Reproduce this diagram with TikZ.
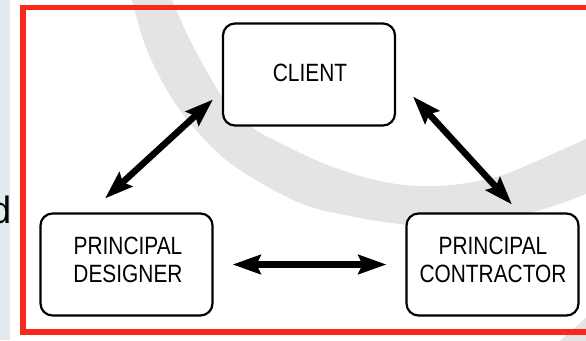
\documentclass[tikz,border=0pt]{standalone}
\usepackage{fontspec}
\setmainfont{Liberation Sans}
\newfontfamily\boxfont[FakeStretch=0.835]{Liberation Sans}
\usetikzlibrary{arrows.meta}

\definecolor{framered}{RGB}{250,40,26}
\definecolor{ringgray}{RGB}{228,228,228}
\definecolor{stripblue}{RGB}{226,234,237}

\tikzset{
  rolebox/.style={draw=black, line width=2.2pt, rounded corners=12pt, fill=white,
    minimum width=172pt, minimum height=102pt, inner sep=0pt, outer sep=0pt},
  rolename/.style={font=\boxfont\fontsize{25}{28.5}\selectfont, align=center, inner sep=0pt},
  duty/.style={line width=6.5pt,
    {Stealth[length=28pt,width=19pt,inset=4pt]}-{Stealth[length=28pt,width=19pt,inset=4pt]}},
}

\begin{document}
\begin{tikzpicture}[x=1pt,y=-1pt]
\useasboundingbox (0,0) rectangle (586,340);
\clip (0,0) rectangle (586,340);
\fill[white] (0,0) rectangle (586,340);

% side strip with the cut-off letter
\fill[stripblue] (0,0) rectangle (10,340);
\begin{scope}
  \clip (0,0) rectangle (10,340);
  \node[anchor=base east, inner sep=0pt, font=\fontsize{38}{40}\selectfont] (cut) at (12,223) {d};
\end{scope}

% large grey swoosh behind the diagram
\fill[ringgray]
  plot[smooth, tension=0.6] coordinates {(127,-20) (132,0) (147,50) (173,100) (205,140)
     (240,170) (300,203) (350,216) (400,224) (450,226) (500,220) (550,207) (586,194) (610,184)}
  -- plot[smooth, tension=0.6] coordinates {(610,128) (586,139) (530,164) (500,176) (460,184)
     (420,186) (380,181) (330,166) (280,143) (253,128) (228,105) (210,77) (190,40) (172,0) (166,-20)}
  -- cycle;
\fill[ringgray] plot[smooth, tension=0.6] coordinates {(552,348) (570,332) (586,318) (600,306)}
  -- (600,348) -- cycle;

% red frame
\draw[framered, line width=5.5pt] (22.75,7.5) rectangle (610,332);

% the three duty holders
\node[rolebox] (client) at (309,74.5) {};
\node[rolebox] (designer) at (126.5,264.5) {};
\node[rolebox] (contractor) at (492.5,264.5) {};

\node[rolename] (clientname) at (310,73) {CLIENT};
\node[rolename] (designername) at (128,260) {PRINCIPAL\\DESIGNER};
\node[rolename] (contractorname) at (493,260) {PRINCIPAL\\CONTRACTOR};

% arrow end points beside the boxes
\coordinate (dtop) at ([shift={(-21.5,-15)}]designer.north);
\coordinate (cleft) at ([shift={(-10,-26)}]client.south west);
\coordinate (cright) at ([shift={(18,-29)}]client.south east);
\coordinate (ctop) at ([shift={(19.5,-9)}]contractor.north);

\draw[duty] (dtop) -- (cleft);
\draw[duty] (cright) -- (ctop);
\draw[duty, shorten <=20pt, shorten >=20pt] (designer.east) -- (contractor.west);
\end{tikzpicture}
\end{document}
